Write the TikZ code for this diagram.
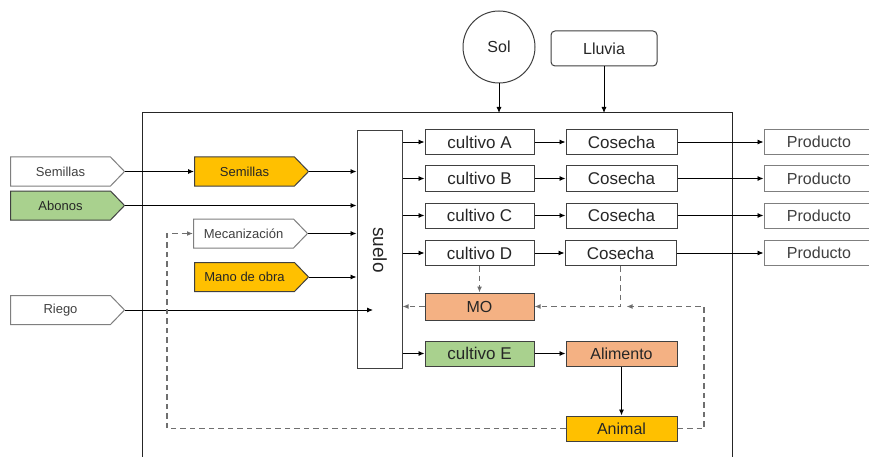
\documentclass[tikz,border=0pt]{standalone}
\usepackage{fontspec}
\setmainfont{Liberation Sans}
\usetikzlibrary{arrows.meta,shapes.symbols}
\definecolor{cOrange}{HTML}{FFC000}
\definecolor{cGreen}{HTML}{A9D18E}
\definecolor{cSalmon}{HTML}{F4B183}
\definecolor{cBorder}{HTML}{404040}
\definecolor{cGrayB}{HTML}{7F7F7F}
\definecolor{cDash}{HTML}{6F6F6F}
\definecolor{cText}{HTML}{262626}
\begin{document}
\begin{tikzpicture}[x=1pt,y=-1pt,
  every node/.style={font=\fontsize{16}{16}\selectfont, text=cText, inner sep=0pt},
  box/.style={draw=cBorder, line width=1pt, rectangle, minimum height=25pt},
  cult/.style={box, minimum width=109pt, font=\fontsize{17}{17}\selectfont},
  cos/.style={box, minimum width=111pt, font=\fontsize{17}{17}\selectfont},
  prod/.style={box, draw=cGrayB, minimum width=120pt, text width=105pt, align=center, text=cBorder},
  sig/.style={signal, signal to=east, signal from=nowhere, signal pointer angle=92,
    draw=cGrayB, line width=1pt, minimum width=114pt, minimum height=29pt,
    font=\fontsize{13}{13}\selectfont, text=cBorder},
  sigc/.style={sig, draw=cBorder, text=cText},
  arr/.style={-{Latex[length=6pt,width=5pt]}, line width=0.9pt, draw=black},
  dsh/.style={-{Latex[length=6pt,width=5pt,fill=black!80]}, draw=cDash, dash pattern=on 5.5pt off 4pt, line width=1.4pt},
]
\useasboundingbox (0,0) rectangle (869,457);
\clip (0,0) rectangle (869,457);
\fill[white] (0,0) rectangle (869,457);

% frame
\draw[line width=1pt, draw=black!85] (142,113) rectangle (732,480);
\coordinate (rtop) at (0,113);

% top
\node[circle, draw=cBorder, line width=1pt, minimum size=72pt] (sol) at (499,47) {Sol};
\node[draw=cBorder, line width=1pt, rounded corners=4pt, minimum width=106pt, minimum height=35pt] (lluvia) at (604,48.5) {Lluvia};
\draw[arr] (sol.south) -- (sol.south |- rtop);
\draw[arr] (lluvia.south) -- (lluvia.south |- rtop);

% suelo
\node[box, minimum width=45pt, minimum height=237pt] (suelo) at (379.5,249.5) {};
\node[rotate=-90, font=\fontsize{19}{19}\selectfont] (suelotxt) at (380,250) {suelo};

% crops
\node[cult] (cA) at (479.5,142) {cultivo A};
\node[cult] (cB) at (479.5,178.5) {cultivo B};
\node[cult] (cC) at (479.5,215.5) {cultivo C};
\node[cult] (cD) at (479.5,253) {cultivo D};
\node[cult, fill=cSalmon, minimum height=27pt, font=\fontsize{16}{16}\selectfont] (mo) at (479.5,306.5) {MO};
\node[cult, fill=cGreen] (cE) at (479.5,353.5) {cultivo E};

\node[cos] (hA) at (621.5,142) {Cosecha};
\node[cos] (hB) at (621.5,178.5) {Cosecha};
\node[cos] (hC) at (621.5,215.5) {Cosecha};
\node[cos] (hD) at (620.5,253) {Cosecha};
\node[cos, fill=cSalmon, font=\fontsize{16}{16}\selectfont] (ali) at (621.5,353.5) {Alimento};
\node[cos, fill=cOrange, font=\fontsize{16}{16}\selectfont] (ani) at (621.5,428.5) {Animal};

\node[prod] (pA) at (824,142) {Producto\hspace*{10pt}};
\node[prod] (pB) at (824,178.5) {Producto\hspace*{10pt}};
\node[prod] (pC) at (824,215.5) {Producto\hspace*{10pt}};
\node[prod] (pD) at (824,253) {Producto\hspace*{10pt}};

% inputs
\node[sig] (semL) at (60.5,171.5) {Semillas};
\node[sigc, fill=cGreen] (abo) at (60.5,205.5) {Abonos};
\node[sig] (rie) at (60.5,310) {Riego};
\node[sigc, fill=cOrange] (semO) at (244.5,171.5) {Semillas};
\node[sig] (mec) at (243.5,233.5) {Mecanización};
\node[sigc, fill=cOrange] (mano) at (244.5,277) {Mano de obra};
\coordinate (riegoend) at (373,310);
\coordinate (dleft) at (167,0);
\coordinate (dright) at (704,0);

% input arrows
\draw[arr] (semL.east) -- (semO.west);
\draw[arr] (semO.east) -- (suelo.west |- semO.east);
\draw[arr] (abo.east) -- (suelo.west |- abo.east);
\draw[arr] (mec.east) -- (suelo.west |- mec.east);
\draw[arr] (mano.east) -- (suelo.west |- mano.east);
\draw[arr] (rie.east) -- (riegoend);

% suelo to crops
\foreach \c in {cA,cB,cC,cD,cE}{
  \draw[arr] (suelo.east |- \c.west) -- (\c.west);
}
\draw[arr] (cA) -- (hA);
\draw[arr] (cB) -- (hB);
\draw[arr] (cC) -- (hC);
\draw[arr] (cD) -- (hD);
\draw[arr] (cE) -- (ali);
\draw[arr] (hA) -- (pA);
\draw[arr] (hB) -- (pB);
\draw[arr] (hC) -- (pC);
\draw[arr] (hD.east) -- (pD.west |- hD.east);
\draw[arr] (ali) -- (ani);

% dashed recycling
\draw[dsh] (cD.south) -- (mo.north);
\draw[dsh] (hD.south) -- (hD.south |- mo.east) -- (mo.east);
\draw[dsh] (ani.east) -- (dright |- ani.east) -- (dright |- mo.east) -- ([xshift=6pt]hD.south |- mo.east);
\draw[dsh] (mo.west) -- (suelo.east |- mo.west);
\draw[dsh] (ani.west) -- (dleft |- ani.west) -- (dleft |- mec.west) -- (mec.west);
\end{tikzpicture}
\end{document}
